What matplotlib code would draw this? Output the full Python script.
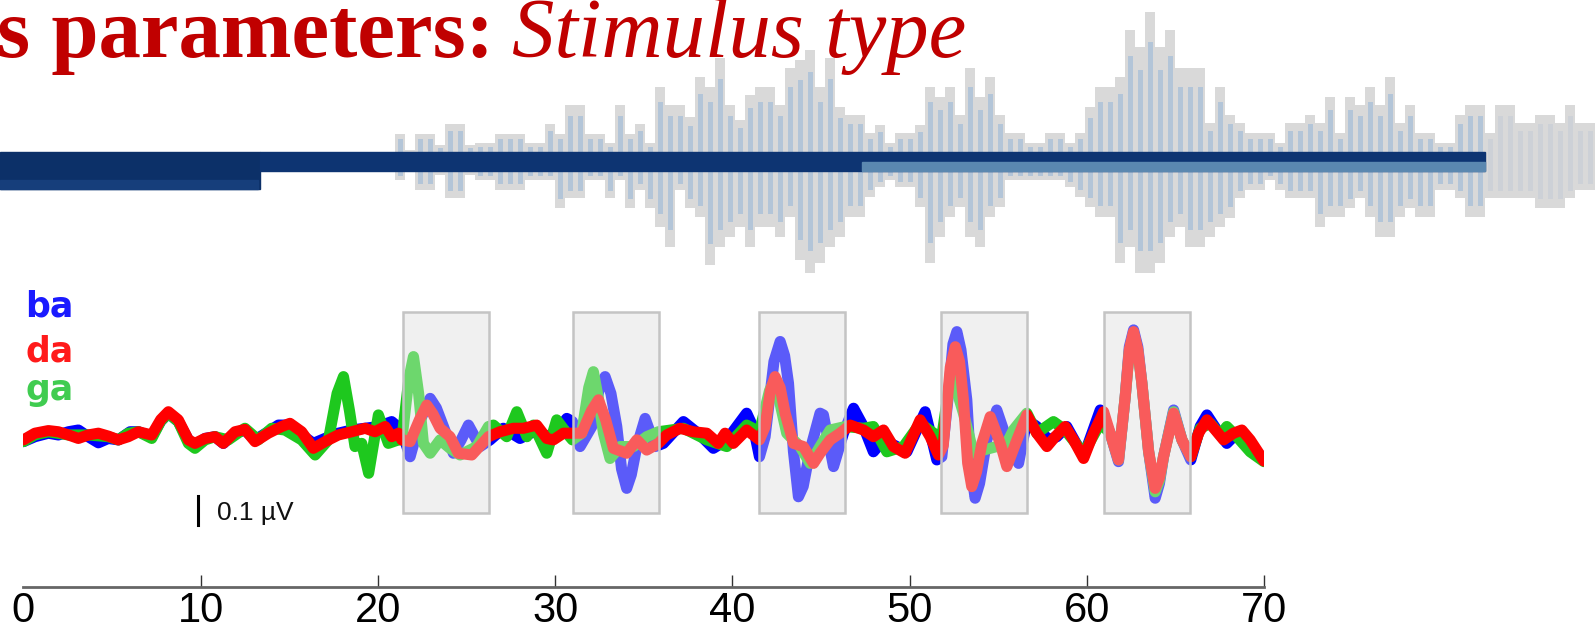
import numpy as np
import matplotlib.pyplot as plt
from matplotlib.patches import Rectangle

# ---------------- data ----------------
# brainstem responses (time in ms, amplitude in uV)
ba_pts = [(0.0, -0.016), (0.65, 0.001), (1.41, 0.013), (1.97, 0.007), (2.54, 0.018), (3.10, 0.024),
          (3.66, 0.001), (4.23, -0.020), (4.79, -0.005), (5.36, -0.010), (6.02, 0.018), (6.49, 0.018),
          (7.24, 0.001), (7.75, 0.055), (8.18, 0.082), (8.74, 0.053), (9.31, -0.010), (9.68, -0.028),
          (10.25, -0.005), (10.81, 0.001), (11.28, -0.022), (11.94, 0.013), (12.50, 0.024), (13.07, -0.010),
          (13.82, 0.018), (14.39, 0.041), (14.95, 0.041), (15.70, 0.007), (16.36, -0.022), (17.02, -0.005),
          (17.77, 0.013), (18.52, 0.024), (19.28, 0.030), (20.03, 0.036), (20.78, 0.053), (21.34, 0.024),
          (21.82, -0.068), (22.40, 0.060), (22.95, 0.133), (23.30, 0.100), (23.70, 0.036), (24.26, -0.056),
          (24.70, -0.010), (25.11, 0.041), (25.77, -0.033), (26.33, -0.010), (27.08, 0.030), (28.02, -0.005),
          (28.78, 0.018), (29.53, 0.001), (30.09, 0.018), (30.66, 0.064), (30.98, 0.053), (31.41, -0.033),
          (32.07, 0.036), (32.50, 0.170), (32.82, 0.208), (33.15, 0.150), (33.48, 0.036), (33.75, -0.110),
          (34.04, -0.177), (34.30, -0.130), (34.61, -0.033), (35.08, 0.064), (35.65, -0.033), (36.11, -0.022),
          (37.24, 0.053), (38.18, 0.007), (38.93, -0.039), (39.69, -0.010), (40.81, 0.082), (41.20, 0.030),
          (41.53, -0.068), (41.85, 0.001), (42.35, 0.260), (42.70, 0.329), (42.95, 0.280), (43.17, 0.185),
          (43.45, -0.050), (43.73, -0.206), (44.00, -0.170), (44.39, -0.045), (44.95, 0.082), (45.14, 0.076),
          (45.71, -0.102), (46.27, 0.013), (46.84, 0.099), (47.40, 0.036), (47.96, -0.051), (48.53, -0.010),
          (49.28, -0.033), (49.85, -0.051), (50.88, 0.087), (51.54, -0.079), (51.82, -0.068), (52.20, 0.150),
          (52.45, 0.320), (52.67, 0.363), (52.90, 0.300), (53.23, 0.128), (53.45, -0.100), (53.70, -0.211),
          (53.95, -0.160), (54.36, -0.010), (54.92, 0.093), (55.49, -0.010), (56.15, -0.091), (56.62, 0.059),
          (57.18, 0.036), (57.84, -0.010), (58.31, 0.001), (58.87, 0.036), (59.82, -0.068), (60.76, 0.093),
          (61.32, 0.013), (61.79, -0.085), (62.17, 0.139), (62.40, 0.310), (62.64, 0.369), (62.88, 0.310),
          (63.11, 0.185), (63.49, -0.050), (63.86, -0.211), (64.10, -0.160), (64.33, -0.068), (64.90, 0.093),
          (65.37, -0.010), (65.87, -0.079), (66.40, 0.036), (66.78, 0.076), (67.34, 0.024), (67.90, -0.022),
          (68.47, 0.013), (69.22, -0.033), (70.0, -0.075)]

ga_pts = [(0.0, -0.016), (0.65, 0.007), (1.41, 0.018), (2.54, 0.007), (3.66, 0.007), (4.79, 0.001),
          (5.36, -0.010), (5.92, 0.013), (6.49, 0.018), (7.24, -0.005), (7.75, 0.055), (8.18, 0.082),
          (8.74, 0.053), (9.31, -0.022), (9.68, -0.039), (10.25, -0.010), (10.81, 0.001), (11.56, -0.010),
          (12.50, 0.030), (13.25, -0.010), (14.01, 0.030), (14.76, 0.024), (15.70, -0.010), (16.46, -0.062),
          (17.21, -0.010), (17.70, 0.150), (18.06, 0.208), (18.40, 0.090), (18.71, -0.033), (19.09, -0.022),
          (19.48, -0.125), (20.03, 0.076), (20.59, -0.022), (21.16, -0.010), (21.35, -0.010), (21.75, 0.200),
          (22.01, 0.277), (22.30, 0.150), (22.57, -0.022), (22.95, -0.056), (23.51, -0.010), (24.07, -0.039),
          (24.64, -0.062), (25.58, -0.033), (26.24, 0.036), (26.52, 0.041), (27.27, 0.001), (27.84, 0.087),
          (28.41, 0.001), (28.78, 0.041), (29.53, -0.056), (30.09, 0.059), (30.66, 0.013), (30.98, -0.010),
          (31.50, 0.013), (31.90, 0.170), (32.16, 0.225), (32.45, 0.130), (32.73, 0.013), (33.10, -0.074),
          (33.67, -0.033), (34.42, -0.033), (35.17, 0.001), (35.83, 0.018), (37.24, 0.030), (38.56, -0.010),
          (39.69, -0.033), (40.81, 0.041), (41.53, 0.018), (42.10, 0.160), (42.41, 0.197), (42.75, 0.100),
          (43.07, 0.013), (43.82, -0.033), (44.39, -0.091), (44.95, -0.033), (45.52, 0.024), (46.37, 0.036),
          (47.40, 0.030), (47.96, 0.036), (48.72, -0.051), (49.66, -0.033), (50.60, 0.047), (51.63, 0.001),
          (51.82, 0.001), (52.20, 0.160), (52.48, 0.197), (53.04, 0.082), (53.61, -0.056), (54.17, -0.045),
          (54.92, -0.033), (55.49, -0.022), (55.86, 0.024), (56.62, 0.082), (57.18, 0.013), (58.12, 0.053),
          (58.78, 0.024), (59.82, -0.056), (60.76, 0.047), (61.32, 0.013), (61.79, -0.079), (62.17, 0.139),
          (62.40, 0.295), (62.64, 0.357), (62.88, 0.295), (63.11, 0.185), (63.49, -0.050), (63.86, -0.189),
          (64.10, -0.150), (64.33, -0.068), (64.90, 0.087), (65.37, -0.010), (65.87, -0.068), (66.40, 0.030),
          (66.97, 0.047), (67.53, 0.007), (67.90, 0.036), (68.47, 0.001), (69.22, -0.051), (70.0, -0.085)]

da_pts = [(0.0, -0.010), (0.65, 0.013), (1.41, 0.022), (1.97, 0.018), (2.54, 0.007), (3.10, -0.005),
          (3.66, 0.007), (4.23, 0.013), (4.79, 0.003), (5.36, -0.010), (5.92, 0.001), (6.49, 0.018),
          (7.24, 0.007), (7.75, 0.060), (8.18, 0.087), (8.74, 0.059), (9.31, -0.010), (9.68, -0.022),
          (10.25, -0.005), (10.81, 0.001), (11.28, -0.022), (11.94, 0.018), (12.50, 0.026), (13.07, -0.016),
          (13.82, 0.013), (14.57, 0.036), (15.04, 0.047), (15.70, 0.018), (16.36, -0.039), (17.02, -0.016),
          (17.77, 0.007), (18.52, 0.018), (19.28, 0.030), (19.84, 0.018), (20.41, 0.036), (20.78, 0.001),
          (21.16, 0.013), (21.35, -0.010), (21.82, -0.016), (22.35, 0.060), (22.76, 0.110), (23.10, 0.080),
          (23.51, 0.030), (24.07, 0.001), (24.54, -0.056), (25.30, -0.062), (26.24, 0.001), (26.89, 0.018),
          (27.65, 0.030), (28.21, 0.030), (28.96, 0.041), (29.53, -0.005), (29.90, -0.010), (30.47, 0.013),
          (31.50, 0.013), (32.05, 0.090), (32.45, 0.128), (32.85, 0.060), (33.29, -0.039), (34.04, -0.056),
          (34.61, -0.010), (35.17, -0.045), (35.83, -0.022), (36.30, 0.007), (37.05, 0.030), (37.80, 0.018),
          (38.56, 0.013), (39.21, -0.022), (39.59, 0.013), (40.06, -0.022), (40.81, 0.024), (41.53, -0.010),
          (41.85, 0.036), (42.15, 0.160), (42.41, 0.208), (42.70, 0.170), (42.98, 0.082), (43.45, -0.022),
          (44.01, -0.033), (44.58, -0.091), (44.95, -0.056), (45.52, -0.010), (46.08, 0.013), (46.65, 0.041),
          (47.40, 0.024), (47.96, 0.001), (48.53, 0.024), (49.09, -0.033), (49.75, -0.056), (50.60, 0.059),
          (51.16, 0.001), (51.63, -0.062), (51.90, -0.030), (52.30, 0.240), (52.58, 0.311), (52.82, 0.260),
          (53.04, 0.128), (53.28, -0.090), (53.51, -0.171), (53.78, -0.120), (54.08, -0.022), (54.55, 0.070),
          (55.12, -0.022), (55.49, -0.102), (56.06, -0.010), (56.62, 0.076), (57.18, 0.013), (57.75, -0.033),
          (58.22, 0.001), (58.78, 0.036), (59.25, -0.010), (59.82, -0.074), (60.38, 0.013), (60.95, 0.087),
          (61.32, 0.013), (61.79, -0.079), (62.17, 0.139), (62.40, 0.300), (62.64, 0.363), (62.88, 0.300),
          (63.11, 0.185), (63.49, -0.050), (63.86, -0.177), (64.10, -0.140), (64.33, -0.068), (64.90, 0.082),
          (65.37, -0.010), (65.87, -0.068), (66.31, 0.013), (66.78, 0.059), (67.34, 0.018), (67.72, -0.010),
          (68.28, 0.013), (68.75, 0.024), (69.22, -0.010), (70.0, -0.083)]

labels = ["ba", "da", "ga"]
x_ticks = [0, 10, 20, 30, 40, 50, 60, 70]
window_starts = [21.4, 31.0, 41.5, 51.8, 61.0]   # ms
window_len = 4.85                                # ms
scale_uv = 0.1

# speech waveform (upper / lower amplitude per column)
wave_up = [27, 11, 27, 27, 16, 37, 37, 16, 18, 18, 27, 27, 27, 18, 18, 37, 27, 56, 56, 27,
           27, 18, 56, 27, 37, 18, 74, 56, 56, 44, 84, 74, 103, 56, 41, 66, 74, 74, 56, 93,
           101, 111, 74, 103, 54, 46, 46, 28, 36, 18, 28, 28, 36, 74, 64, 74, 46, 93, 64, 84,
           46, 28, 28, 18, 18, 28, 28, 18, 28, 54, 74, 74, 84, 131, 114, 149, 114, 131, 93, 93,
           93, 38, 74, 46, 38, 28, 28, 28, 18, 38, 38, 46, 38, 64, 28, 64, 56, 74, 56, 84,
           38, 56, 28, 28, 18, 18, 46, 56, 56, 28, 56, 56, 38, 38, 46, 46, 38, 56, 38, 38]
wave_down = [19, 11, 29, 29, 14, 37, 37, 14, 19, 19, 29, 29, 29, 19, 19, 19, 47, 37, 37, 19,
             19, 37, 19, 47, 29, 47, 66, 86, 29, 47, 56, 104, 86, 76, 66, 86, 66, 66, 76, 56,
             99, 112, 102, 86, 76, 56, 56, 36, 26, 19, 26, 26, 46, 102, 76, 56, 46, 76, 86, 56,
             46, 19, 19, 19, 19, 19, 19, 26, 36, 46, 56, 56, 102, 86, 112, 112, 102, 76, 66, 86,
             86, 76, 66, 57, 37, 29, 29, 19, 29, 37, 37, 37, 66, 56, 56, 47, 37, 56, 76, 76,
             56, 47, 56, 56, 29, 29, 37, 56, 56, 37, 37, 37, 37, 37, 47, 47, 47, 37, 29, 29]

# ---------------- figure ----------------
W, H = 1595, 642
fig = plt.figure(figsize=(W / 100, H / 100), dpi=100)
fig.patch.set_facecolor("white")

# top layer in pixel units (slide artwork)
ax_top = fig.add_axes([0, 0, 1, 1])
ax_top.set_xlim(0, W)
ax_top.set_ylim(H, 0)
ax_top.axis("off")

wave_center = 161
wave_x = 400 + 10 * np.arange(len(wave_up))
up = np.array(wave_up)
dn = np.array(wave_down)
ax_top.bar(wave_x, up + dn, bottom=wave_center - up, width=10, color="#d9d9d9", zorder=1)
tinted = wave_x < 1485
ax_top.bar(wave_x[tinted], (up + dn)[tinted] * 0.8, bottom=wave_center - up[tinted] * 0.8,
           width=5, color="#b3c5d8", zorder=1.5)
ax_top.bar(wave_x[~tinted], (up + dn)[~tinted] * 0.8, bottom=wave_center - up[~tinted] * 0.8,
           width=5, color="#cdd1d7", zorder=1.5)

# timeline bars
ax_top.add_patch(Rectangle((0, 152), 260, 37, color="#0c3068", zorder=2))
ax_top.add_patch(Rectangle((0, 180), 258, 9, color="#163e7b", zorder=2))
ax_top.add_patch(Rectangle((260, 152), 1225, 19, color="#0d3472", zorder=2))
ax_top.add_patch(Rectangle((862, 162), 623, 9, color="#5b88b0", zorder=2.1))

# title
ax_top.text(-3, 57, "s parameters:", fontfamily="Liberation Serif", fontweight="bold",
            fontsize=61, color="#c00000", va="baseline", ha="left", zorder=5)
ax_top.text(512, 57, "Stimulus type", fontfamily="Liberation Serif", fontstyle="italic",
            fontsize=61, color="#c00000", va="baseline", ha="left", zorder=5)

# response axes
x0, x1 = 23.4, 1264
y_axis, y_top = 587, 280
ax = fig.add_axes([x0 / W, (H - y_axis) / H, (x1 - x0) / W, (y_axis - y_top) / H])
ax.set_facecolor("none")
ax.set_xlim(0, 70)
ax.set_ylim(-0.517, 0.541)

for s in window_starts:
    ax.add_patch(Rectangle((s, -0.263), window_len, 0.694, facecolor="#f0f0f0",
                           edgecolor="none", zorder=1))

colors = {"ba": "#0000ff", "ga": "#1ec81e", "da": "#ff0000"}
for name, pts in [("ba", ba_pts), ("ga", ga_pts), ("da", da_pts)]:
    arr = np.array(pts)
    ax.plot(arr[:, 0], arr[:, 1], color=colors[name], lw=8,
            solid_joinstyle="round", solid_capstyle="round", zorder=2)

for s in window_starts:
    ax.add_patch(Rectangle((s, -0.263), window_len, 0.694, facecolor="#f0f0f0",
                           edgecolor="none", alpha=0.38, zorder=3))
    ax.add_patch(Rectangle((s, -0.263), window_len, 0.694, facecolor="none",
                           edgecolor="#c4c4c4", lw=1.8, zorder=4))

# condition labels
label_y = {"ba": 0.414, "da": 0.259, "ga": 0.128}
label_colors = {"ba": "#1a1aff", "da": "#ff1a1a", "ga": "#40cc50"}
for name in labels:
    ax.text(0.1, label_y[name], name, color=label_colors[name], fontsize=25,
            fontweight="bold", fontfamily="DejaVu Sans", va="baseline", ha="left")

# scale bar
ax.plot([9.85, 9.85], [-0.203, -0.203 - scale_uv], color="black", lw=2.2)
ax.text(10.9, -0.262, "0.1 µV", fontsize=19, fontfamily="Liberation Sans",
        va="center", ha="left", color="#111111")

# x axis
for side in ["left", "right", "top"]:
    ax.spines[side].set_visible(False)
ax.spines["bottom"].set_color("#666666")
ax.spines["bottom"].set_linewidth(2)
ax.set_yticks([])
ax.set_xticks(x_ticks)
ax.set_xticklabels([str(t) for t in x_ticks], fontsize=30, fontfamily="Liberation Sans")
ax.tick_params(axis="x", direction="in", length=9, width=1, color="#333333", pad=3)
ax.xaxis.get_major_ticks()[0].tick1line.set_visible(False)

fig.savefig("out.png", dpi=100)
